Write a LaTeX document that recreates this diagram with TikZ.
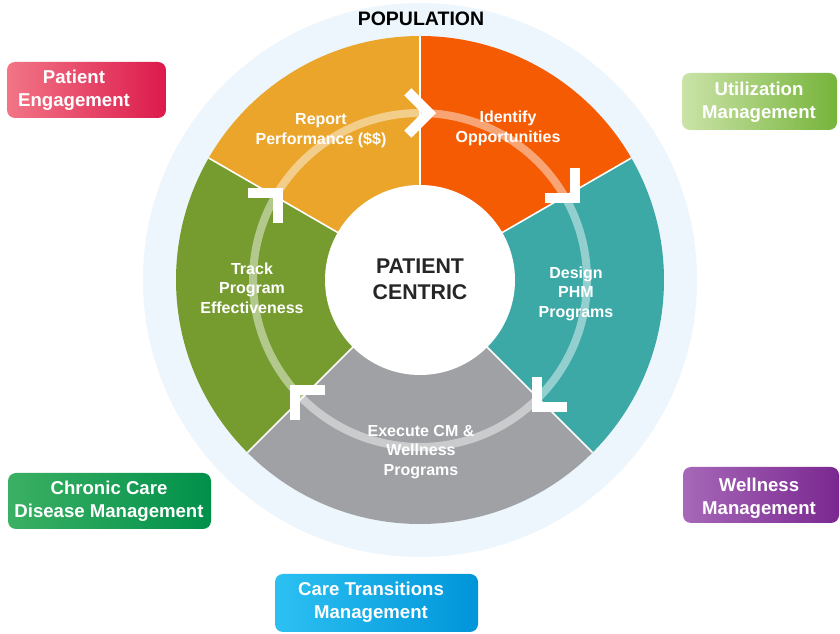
\documentclass[tikz,border=0pt]{standalone}
\usepackage{fontspec}
\setmainfont{Liberation Sans}
\usetikzlibrary{calc}
\definecolor{cOrange}{HTML}{F55B02}
\definecolor{cGold}{HTML}{EAA52A}
\definecolor{cGreen}{HTML}{769C2F}
\definecolor{cTeal}{HTML}{3CA9A7}
\definecolor{cGray}{HTML}{A0A1A5}
\definecolor{cHalo}{HTML}{EDF6FC}
\definecolor{cDark}{HTML}{262626}
\definecolor{peL}{HTML}{F27586}
\definecolor{peR}{HTML}{DC1A4C}
\definecolor{umL}{HTML}{CBE3A8}
\definecolor{umR}{HTML}{76B43A}
\definecolor{ccL}{HTML}{3BB063}
\definecolor{ccR}{HTML}{00904A}
\definecolor{wmL}{HTML}{A668B8}
\definecolor{wmR}{HTML}{7A2890}
\definecolor{ctL}{HTML}{2CC0F2}
\definecolor{ctR}{HTML}{0095D9}
\begin{document}
\begin{tikzpicture}[x=1pt,y=1pt,
  seclabel/.style={text=white, font=\fontsize{16}{19.5}\selectfont\bfseries, align=center, inner sep=0pt},
  boxlabel/.style={text=white, font=\fontsize{18.6}{23}\selectfont\bfseries, align=center, inner sep=0pt},
  sidebox/.style={rounded corners=8pt, inner sep=0pt, minimum height=56pt},
  chev/.style={white, line width=10pt, line cap=butt, line join=miter},
  divider/.style={white, line width=1.6pt}]
\useasboundingbox (0,0) rectangle (840,634);
\fill[white] (0,0) rectangle (840,634);
\coordinate (C) at (420,354);
% halo ring
\fill[cHalo] (C) circle[radius=277];
% sectors
\fill[cOrange] (C) -- ($(C)+(30:244)$) arc[start angle=30,end angle=90,radius=244] -- cycle;
\fill[cGold] (C) -- ($(C)+(90:244)$) arc[start angle=90,end angle=150,radius=244] -- cycle;
\fill[cGreen] (C) -- ($(C)+(150:244)$) arc[start angle=150,end angle=225,radius=244] -- cycle;
\fill[cGray] (C) -- ($(C)+(225:244)$) arc[start angle=225,end angle=315,radius=244] -- cycle;
\fill[cTeal] (C) -- ($(C)+(315:244)$) arc[start angle=315,end angle=390,radius=244] -- cycle;
\foreach \a in {30,90,150,225,315} \draw[divider] (C) -- ($(C)+(\a:244)$);
% centre
\fill[white] (C) circle[radius=95];
% cycle ring
\draw[white, opacity=0.45, line width=8pt] (C) circle[radius=167];
% chevrons: apex x, apex y, arm direction 1, arm direction 2
\foreach \x/\y/\p/\q in {429/521/135/225, 575/436/90/180, 537/227/0/90, 295/244/0/270, 278/441/180/270} {
  \coordinate (apex) at (\x,\y);
  \draw[chev] ($(apex)+(\p:30)$) -- (apex) -- ($(apex)+(\q:30)$);
}
% labels
\node[text=black, font=\fontsize{19.5}{22}\selectfont\bfseries] (pop) at (421,615) {POPULATION};
\node[text=cDark, font=\fontsize{21.3}{26}\selectfont\bfseries, align=center] (pc) at (420,355) {PATIENT\\CENTRIC};
\node[seclabel] (rep) at (321,503.5) {Report\\Performance (\$\$)};
\node[seclabel] (idf) at (508,505.5) {Identify\\Opportunities};
\node[seclabel] (trk) at (252,346) {Track\\Program\\Effectiveness};
\node[seclabel] (dsg) at (576,340.5) {Design\\PHM\\Programs};
\node[seclabel] (exe) at (421,182) {Execute CM \&\\Wellness\\Programs};
% side boxes
\node[sidebox, minimum width=159pt, left color=peL, right color=peR] (peBox) at (86.5,544) {};
\node[boxlabel] (pe) at (74,543.5) {Patient\\Engagement};
\node[sidebox, minimum width=155pt, minimum height=57pt, left color=umL, right color=umR] (umBox) at (759.5,532.5) {};
\node[boxlabel] (um) at (759,532) {Utilization\\Management};
\node[sidebox, minimum width=203pt, left color=ccL, right color=ccR] (ccBox) at (109.5,133) {};
\node[boxlabel] (cc) at (109,133) {Chronic Care\\Disease Management};
\node[sidebox, minimum width=156pt, left color=wmL, right color=wmR] (wmBox) at (761,139) {};
\node[boxlabel] (wm) at (759,136) {Wellness\\Management};
\node[sidebox, minimum width=203pt, minimum height=58pt, left color=ctL, right color=ctR] (ctBox) at (376.5,31) {};
\node[boxlabel] (ct) at (371,32) {Care Transitions\\Management};
\end{tikzpicture}
\end{document}
